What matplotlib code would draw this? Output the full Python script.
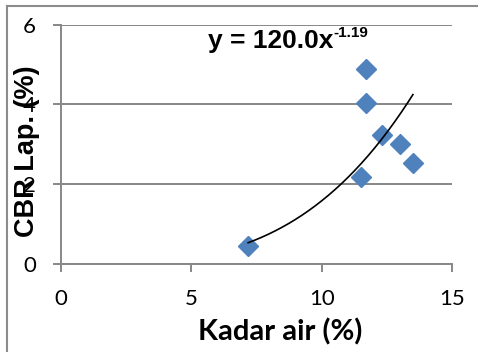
import numpy as np
import matplotlib
matplotlib.use('Agg')
import matplotlib.pyplot as plt
from matplotlib.lines import Line2D

# Data
kadar_air = [11.7, 11.7, 12.3, 13.0, 13.5, 11.5, 7.18]
cbr_lap = [4.90, 4.04, 3.23, 3.02, 2.52, 2.19, 0.44]
x_ticks = [0, 5, 10, 15]
y_ticks = [0, 2, 4, 6]
eq_text = 'y = 120.0x'
eq_power = '-1.19'

grid_grey = '#878787'
blue = '#4F81BD'

fig = plt.figure(figsize=(4.78, 3.52), dpi=100)
ax = fig.add_axes([61 / 478, 1 - 264 / 352, 391 / 478, (264 - 24.7) / 352])

# outer chart border (top and left visible)
fig.add_artist(Line2D([7 / 478, 1], [1 - 6 / 352, 1 - 6 / 352], color='#8c8c8c', lw=1.5))
fig.add_artist(Line2D([7 / 478, 7 / 478], [0, 1 - 6 / 352], color='#8c8c8c', lw=1.5))

ax.set_xlim(0, 15)
ax.set_ylim(0, 6)
ax.set_xticks(x_ticks)
ax.set_yticks(y_ticks)
ax.grid(axis='y', color=grid_grey, lw=1.4, zorder=0)
ax.set_axisbelow(True)
for s in ['top', 'right']:
    ax.spines[s].set_visible(False)
for s in ['left', 'bottom']:
    ax.spines[s].set_color(grid_grey)
    ax.spines[s].set_linewidth(1.4)
ax.tick_params(length=6, width=1.4, color=grid_grey, pad=12, labelsize=16)
for lab in ax.get_xticklabels() + ax.get_yticklabels():
    lab.set_fontfamily('Lato')

ax.plot(kadar_air, cbr_lap, 'D', color=blue, markersize=10, zorder=3)

# power trendline fitted in log-log space
b, ln_a = np.polyfit(np.log(kadar_air), np.log(cbr_lap), 1)
xs = np.linspace(min(kadar_air), max(kadar_air), 200)
ax.plot(xs, np.exp(ln_a) * xs ** b, color='black', lw=1.2, zorder=4)

t = ax.text(5.64, 5.41, eq_text, fontsize=19, fontweight='bold',
            family='Liberation Sans', va='baseline')
ax.annotate(eq_power, xy=(1, 0.55), xycoords=t, fontsize=11, fontweight='bold',
            family='Liberation Sans', va='bottom', ha='left')

ax.set_xlabel('Kadar air (%)', fontsize=21, fontweight='bold', family='Lato')
ax.set_ylabel('CBR Lap. (%)', fontsize=19.5, fontweight='bold', family='Liberation Sans')
ax.xaxis.label.set_va('baseline')
ax.yaxis.label.set_va('baseline')
ax.xaxis.set_label_coords((280.5 - 61) / 391, (264 - 340) / 239.3)
ax.yaxis.set_label_coords((33.5 - 61) / 391, (264 - 151.5) / 239.3)

fig.savefig('out.png', dpi=100)
